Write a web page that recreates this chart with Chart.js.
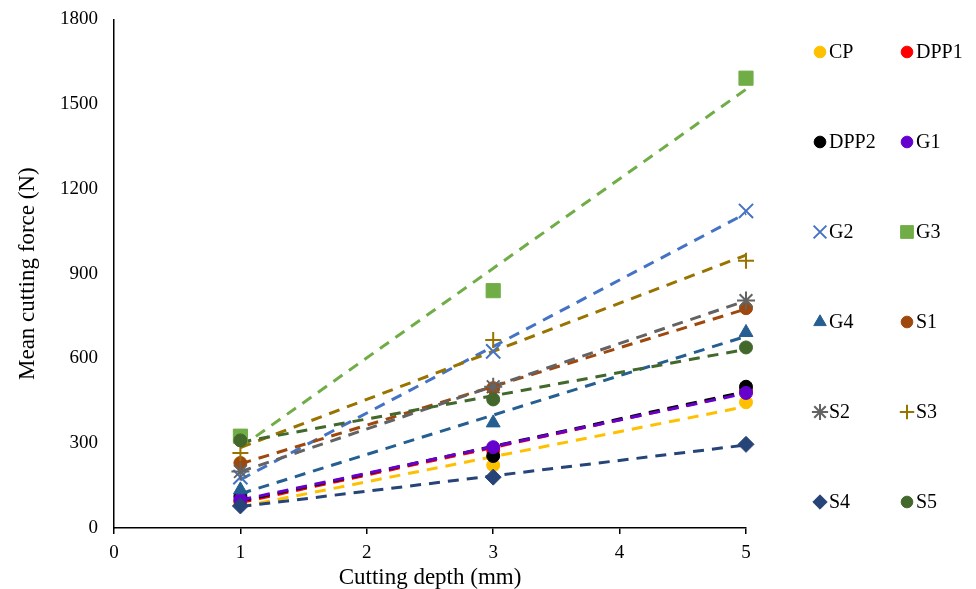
<!DOCTYPE html>
<html>
<head>
<meta charset="utf-8">
<script src="https://cdn.jsdelivr.net/npm/chart.js@4"></script>
<style>
  html, body { margin: 0; padding: 0; background: #fff; }
  #wrap { width: 976px; height: 589px; }
</style>
</head>
<body>
<div id="wrap"><canvas id="myChart" width="976" height="589"></canvas></div>
<script>
// cutting depths (mm) and mean cutting force (N) per sample
const depths = [1, 3, 5];
const names = ['CP', 'DPP1', 'DPP2', 'G1', 'G2', 'G3', 'G4', 'S1', 'S2', 'S3', 'S4', 'S5'];
const cp   = [90, 222, 445];
const dpp1 = [95, 275, 485];
const dpp2 = [112, 255, 500];
const g1   = [100, 286, 478];
const g2   = [180, 625, 1122];
const g3   = [325, 840, 1592];
const g4   = [135, 372, 692];
const s1   = [230, 495, 778];
const s2   = [200, 500, 805];
const s3   = [265, 665, 946];
const s4   = [78, 180, 296];
const s5   = [310, 455, 639];
const yTicks = [0, 300, 600, 900, 1200, 1500, 1800];
const xTicks = [0, 1, 2, 3, 4, 5];

const series = [cp, dpp1, dpp2, g1, g2, g3, g4, s1, s2, s3, s4, s5];
const colors = ['#FFC000', '#FF0000', '#000000', '#6600CC', '#4472C4', '#70AD47',
                '#255E91', '#9E480E', '#636363', '#997300', '#264478', '#43682B'];
const shapes = ['circle', 'circle', 'circle', 'circle', 'crossRot', 'rect',
                'triangle', 'circle', 'star', 'cross', 'rectRot', 'circle'];
const sizes  = [6.5, 6.5, 6.5, 6.5, 10, 10, 8, 6.5, 9, 8, 8, 6.5];

const FONT = "'Liberation Serif', 'Times New Roman', serif";

// least squares line through the measured points
function fit(xs, ys) {
  const n = xs.length;
  const mx = xs.reduce((a, b) => a + b, 0) / n;
  const my = ys.reduce((a, b) => a + b, 0) / n;
  let sxy = 0, sxx = 0;
  xs.forEach((x, i) => { sxy += (x - mx) * (ys[i] - my); sxx += (x - mx) * (x - mx); });
  const b = sxy / sxx;
  return x => my + b * (x - mx);
}

const datasets = [];
series.forEach((vals, i) => {
  const f = fit(depths, vals);
  const x0 = depths[0], x1 = depths[depths.length - 1];
  datasets.push({
    type: 'line',
    label: names[i] + ' trend',
    data: [{x: x0, y: f(x0)}, {x: x1, y: f(x1)}],
    borderColor: colors[i],
    borderWidth: 3,
    borderDash: [11, 8],
    pointRadius: 0,
    fill: false,
    clip: false,
    order: 100 + series.length - i,
    isTrend: true
  });
});
series.forEach((vals, i) => {
  const solid = shapes[i] !== 'crossRot' && shapes[i] !== 'star' && shapes[i] !== 'cross';
  datasets.push({
    type: 'scatter',
    label: names[i],
    data: vals.map((v, k) => ({x: depths[k], y: v})),
    pointStyle: shapes[i],
    pointRadius: sizes[i],
    pointBackgroundColor: colors[i],
    pointBorderColor: colors[i],
    pointBorderWidth: solid ? 1 : 2,
    clip: false,
    order: series.length - i
  });
});

// two-column legend on the right side
const sideLegend = {
  id: 'sideLegend',
  afterDraw(chart) {
    const ctx = chart.ctx;
    const pts = chart.data.datasets.filter(d => !d.isTrend);
    ctx.save();
    ctx.font = '20px ' + FONT;
    ctx.textBaseline = 'middle';
    pts.forEach((d, i) => {
      const col = i % 2, row = Math.floor(i / 2);
      const x = col === 0 ? 820 : 907;
      const y = 52 + row * 90;
      const opts = {
        pointStyle: d.pointStyle, radius: d.pointRadius * 0.9, rotation: 0,
        borderWidth: d.pointBorderWidth
      };
      ctx.fillStyle = d.pointBackgroundColor;
      ctx.strokeStyle = d.pointBorderColor;
      ctx.lineWidth = d.pointBorderWidth;
      Chart.helpers.drawPoint(ctx, opts, x, y);
      ctx.fillStyle = '#000';
      ctx.fillText(d.label, x + 9, y + 1);
    });
    ctx.restore();
  }
};

const ctx = document.getElementById('myChart').getContext('2d');
const chart = new Chart(ctx, {
  type: 'scatter',
  data: { datasets: datasets },
  options: {
    responsive: false,
    animation: false,
    layout: { padding: { left: 0, top: 18, right: 230, bottom: 0 } },
    plugins: { legend: { display: false }, tooltip: { enabled: false } },
    scales: {
      x: {
        type: 'linear', min: 0, max: 5,
        afterBuildTicks: s => { s.ticks = xTicks.map(v => ({value: v})); },
        afterFit: s => { s.height = 61; },
        grid: { drawOnChartArea: false, drawTicks: true, tickLength: 6, color: '#000', lineWidth: 1.5 },
        border: { color: '#000', width: 1.5 },
        ticks: { color: '#000', font: { family: FONT, size: 19 }, padding: 8 },
        title: { display: true, text: 'Cutting depth (mm)', color: '#000',
                 font: { family: FONT, size: 23 }, padding: { top: 0, bottom: -3 } }
      },
      y: {
        type: 'linear', min: 0, max: 1800,
        afterBuildTicks: s => { s.ticks = yTicks.map(v => ({value: v})); },
        afterFit: s => { s.width = 114; },
        grid: { display: false },
        border: { color: '#000', width: 1.5 },
        ticks: { color: '#000', font: { family: FONT, size: 19 }, padding: 8,
                 callback: v => String(v) },
        title: { display: true, text: 'Mean cutting force (N)', color: '#000',
                 font: { family: FONT, size: 23 }, padding: { top: 14, bottom: 0 } }
      }
    }
  },
  plugins: [sideLegend]
});
</script>
</body>
</html>
